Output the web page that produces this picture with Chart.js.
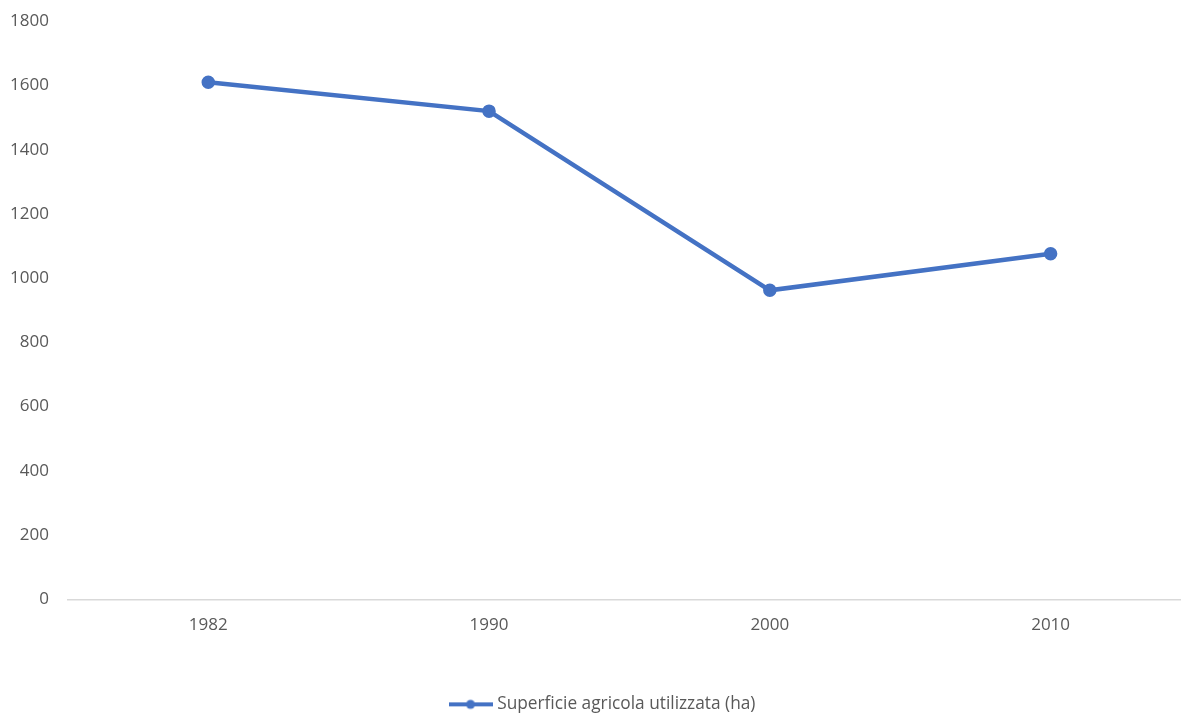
<!DOCTYPE html>
<html>
<head>
<meta charset="utf-8">
<script src="https://cdn.jsdelivr.net/npm/chart.js@4/dist/chart.umd.min.js"></script>
<style>
  html, body { margin: 0; padding: 0; background: #fff; overflow: hidden; }
  #wrap { position: absolute; left: 0; top: 0; width: 1200px; height: 713px; }
</style>
</head>
<body>
<div id="wrap"><canvas id="sauChart"></canvas></div>
<script>
const anni = ['1982', '1990', '2000', '2010'];
const superficie = [1610, 1520, 962, 1076];
const yTicks = [0, 200, 400, 600, 800, 1000, 1200, 1400, 1600, 1800];

const blu = '#4472C4';
const grigio = '#595959';
const font = { family: 'Open Sans', size: 17 };

// legend marker: short line with a dot in the middle
function legendMarker() {
    const c = document.createElement('canvas');
    c.width = 44;
    c.height = 12;
    const g = c.getContext('2d');
    g.strokeStyle = blu;
    g.lineWidth = 4;
    g.beginPath();
    g.moveTo(0, 6);
    g.lineTo(44, 6);
    g.stroke();
    g.fillStyle = blu;
    g.beginPath();
    g.arc(22, 6, 4.5, 0, Math.PI * 2);
    g.fill();
    return c;
}

// nudge the legend a little to the right of the plot centre
const spostaLegenda = {
    id: 'spostaLegenda',
    afterLayout(c) {
        c.legend.left += 8;
        c.legend.right += 8;
    }
};

const ctx = document.getElementById('sauChart').getContext('2d');
const chart = new Chart(ctx, {
    type: 'line',
    data: {
        labels: anni,
        datasets: [{
            label: 'Superficie agricola utilizzata (ha)',
            data: superficie,
            borderColor: blu,
            backgroundColor: blu,
            borderWidth: 4.5,
            pointRadius: 4.5,
            pointHoverRadius: 4.5,
            tension: 0
        }]
    },
    options: {
        responsive: true,
        maintainAspectRatio: false,
        animation: false,
        layout: {
            padding: { top: 4, left: -1, right: 7, bottom: -10 }
        },
        scales: {
            y: {
                min: 0,
                max: 1800,
                afterBuildTicks: axis => {
                    axis.ticks = yTicks.map(v => ({ value: v }));
                },
                border: { display: false },
                grid: { display: false },
                ticks: {
                    color: grigio,
                    padding: 11,
                    font: font,
                    callback: v => String(v)
                }
            },
            x: {
                offset: true,
                border: { display: true, color: '#d9d9d9', width: 1.5 },
                grid: { display: false },
                ticks: {
                    color: grigio,
                    padding: 8,
                    font: font
                },
                afterFit: axis => { axis.height += 50; }
            }
        },
        plugins: {
            legend: {
                position: 'bottom',
                labels: {
                    color: grigio,
                    font: { family: 'Open Sans', size: 17.3 },
                    usePointStyle: true,
                    pointStyleWidth: 36,
                    padding: 2,
                    generateLabels: c => c.data.datasets.map((ds, i) => ({
                        text: ds.label,
                        fontColor: grigio,
                        pointStyle: legendMarker(),
                        datasetIndex: i
                    }))
                }
            },
            tooltip: { enabled: false }
        }
    },
    plugins: [spostaLegenda]
});
</script>
</body>
</html>
